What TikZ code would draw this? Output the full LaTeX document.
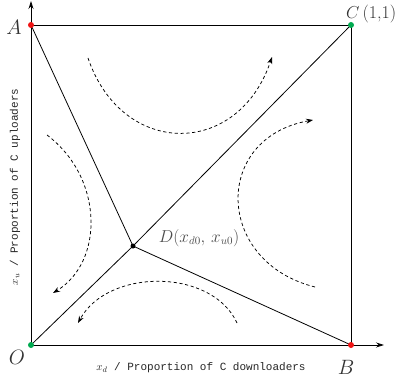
\documentclass[tikz,border=0pt]{standalone}
\usepackage{fontspec}
\newfontfamily\monofont{Liberation Mono}
\usetikzlibrary{arrows.meta}
\definecolor{dotred}{RGB}{240,20,20}
\definecolor{dotgreen}{RGB}{0,170,80}
\tikzset{
  solidline/.style={line width=0.8pt, black},
  flow/.style={line width=0.75pt, dash pattern=on 3.2pt off 2.6pt, -{Stealth[length=7pt,width=5pt]}},
  axisline/.style={line width=0.8pt, -{Stealth[length=8pt,width=5pt]}},
  corner/.style={circle, inner sep=0pt, minimum size=6pt},
  biglabel/.style={text=black!80, font=\fontsize{22}{24}\selectfont, inner sep=0pt},
  axlabel/.style={text=black!85, font=\monofont\fontsize{11}{12}\selectfont, inner sep=0pt}
}
\begin{document}
\begin{tikzpicture}[x=1pt,y=-1pt]
\useasboundingbox (0,0) rectangle (401,382);
% key points
\coordinate (O) at (31,345);
\coordinate (A) at (31,25);
\coordinate (C) at (351,25);
\coordinate (B) at (351,345);
\coordinate (D) at (133,246);
\coordinate (ytip) at (31,1);
\coordinate (xtip) at (384,345);
% axes
\draw[axisline] (O) -- (ytip);
\draw[axisline] (O) -- (xtip);
% box
\draw[solidline] (A) -- (C) -- (B);
% saddle lines
\draw[solidline] (A) -- (D) -- (B);
\draw[solidline] (O) -- (D) -- (C);
% flow curves
\coordinate (t1) at (88,58);  \coordinate (t2) at (272,57);
\draw[flow] (t1) .. controls (122,158) and (238,158) .. (t2);
\coordinate (r1) at (315,287); \coordinate (r2) at (313,120);
\draw[flow] (r1) .. controls (215,262) and (212,138) .. (r2);
\coordinate (l1) at (47,135); \coordinate (l2) at (53,293);
\draw[flow] (l1) .. controls (104,178) and (104,262) .. (l2);
\coordinate (b1) at (237,323); \coordinate (b2) at (78,323);
\draw[flow] (b1) .. controls (212,268) and (108,268) .. (b2);
% dots
\node[corner, fill=dotred] (Adot) at (A) {};
\node[corner, fill=dotred] (Bdot) at (B) {};
\node[corner, fill=dotgreen] (Odot) at (O) {};
\node[corner, fill=dotgreen] (Cdot) at (C) {};
\node[circle, fill=black, inner sep=0pt, minimum size=5pt] (Ddot) at (D) {};
% labels
\node[biglabel] (Alab) at (14,27) {$A$};
\node[biglabel] (Olab) at (17,357) {$O$};
\node[biglabel] (Blab) at (346,367) {$B$};
\node[biglabel, font=\fontsize{18}{20}\selectfont, anchor=west] (Clab) at (346,14) {$C$\,(1,1)};
\node[text=black!70, font=\fontsize{16}{18}\selectfont, inner sep=0pt] (Dlab) at (199,238) {$D(x_{d0},\,x_{u0})$};
\node[axlabel] (xlab) at (201,368) {$x_d$ / Proportion of C downloaders};
\node[axlabel, rotate=90] (ylab) at (15,187) {$x_u$ / Proportion of C uploaders};
\end{tikzpicture}
\end{document}
